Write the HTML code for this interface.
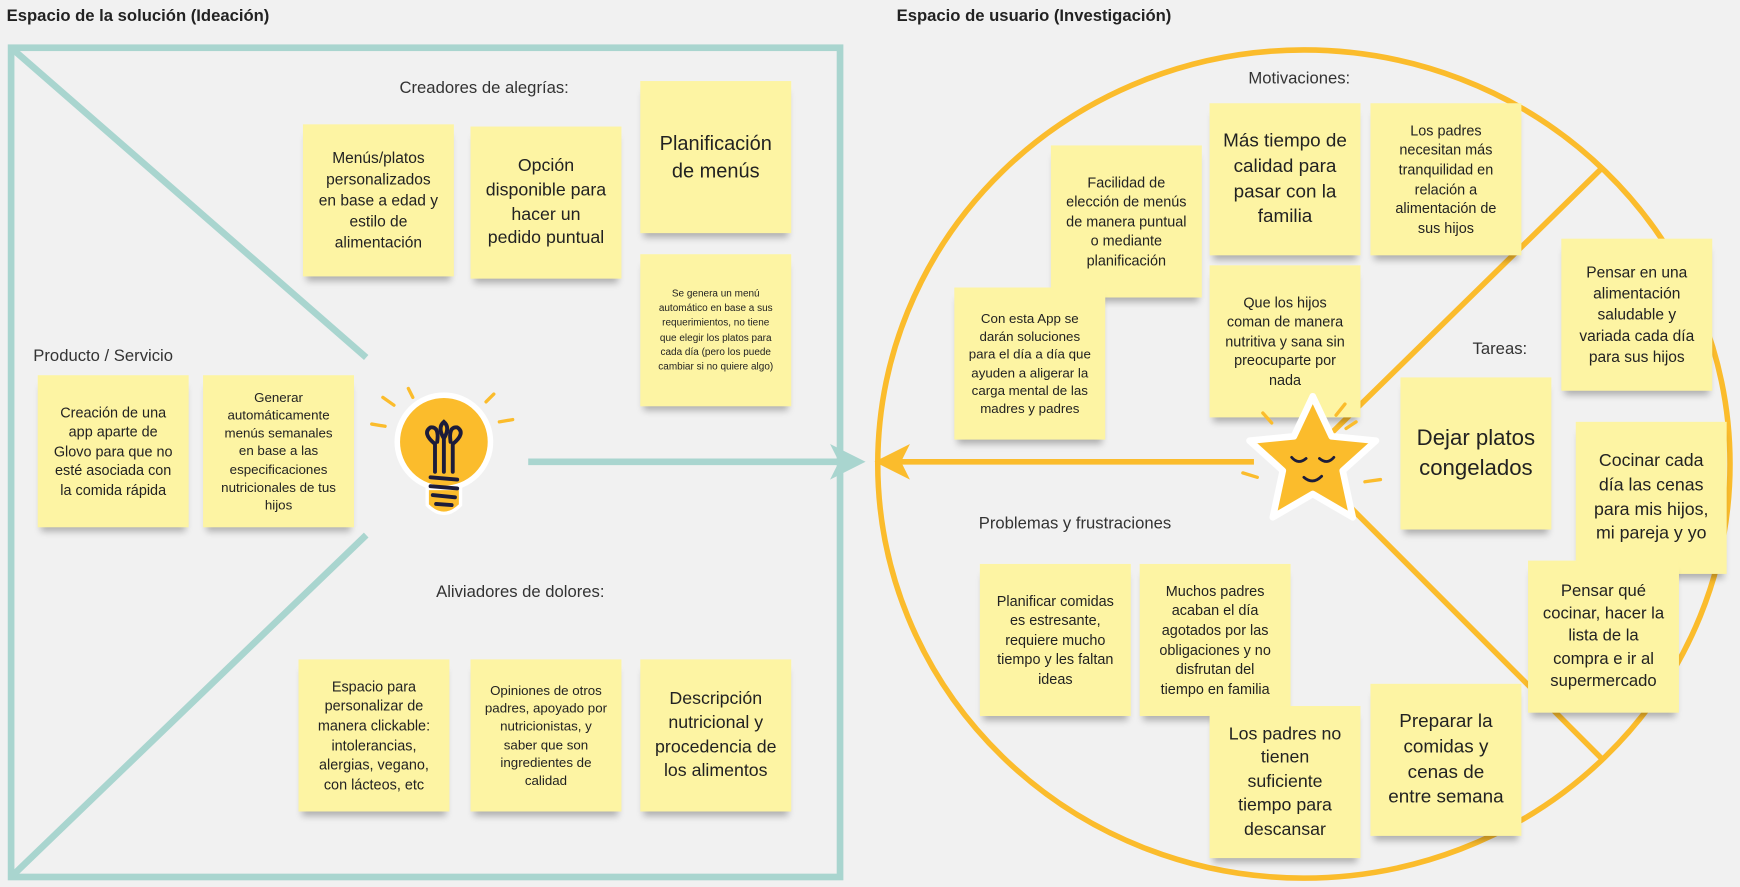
<!DOCTYPE html>
<html><head><meta charset="utf-8"><style>
html,body{margin:0;padding:0;width:1740px;height:887px;overflow:hidden;background:#f1f1f1;}
#w{position:absolute;left:0;top:0;width:1568px;height:799px;transform:scale(1.10969,1.1101);transform-origin:0 0;font-family:"Liberation Sans",sans-serif;color:#222;}
.t{position:absolute;font-weight:bold;font-size:15px;}
.l{position:absolute;font-size:15px;color:#333;white-space:nowrap;}
.s{position:absolute;width:136px;height:137px;background:#fdf4a3;box-shadow:0 7px 6px -3px rgba(0,0,0,.28);display:flex;align-items:center;justify-content:center;text-align:center;box-sizing:border-box;padding:6px 12px;line-height:1.35;color:#222;}
svg{position:absolute;left:0;top:0;}
</style></head><body><div id="w">
<svg width="1568" height="799">
<g stroke="#a9d5cf" stroke-width="6" fill="none">
<rect x="10" y="43" width="747" height="747"/>
<line x1="10" y1="43" x2="330" y2="322"/>
<line x1="330" y1="482" x2="10" y2="790"/>
<line x1="476" y1="416" x2="760" y2="416"/>
</g>
<polygon points="780,416 748,400 756,416 748,432" fill="#a9d5cf"/>
<g stroke="#fbbc2c" stroke-width="5" fill="none">
<ellipse cx="1175" cy="418" rx="384" ry="373"/>
<line x1="1130" y1="416" x2="810" y2="416"/>
<line x1="1200" y1="390" x2="1443" y2="152"/>
<line x1="1200" y1="440" x2="1443" y2="683"/>
</g>
<polygon points="788,416 820,400 812,416 820,432" fill="#fbbc2c"/>
<!-- bulb -->
<g stroke="#fbbc2c" stroke-width="3" stroke-linecap="round">
<line x1="345" y1="358" x2="355" y2="365"/><line x1="368" y1="350" x2="372" y2="358"/>
<line x1="335" y1="382" x2="347" y2="384"/><line x1="445" y1="355" x2="438" y2="362"/>
<line x1="462" y1="378" x2="450" y2="380"/>
</g>
<circle cx="400" cy="398" r="42" fill="#fbbc2c" stroke="#fff" stroke-width="5"/>
<path d="M385 440 L385 455 Q400 470 415 455 L415 440 Z" fill="#fbbc2c" stroke="#fff" stroke-width="3"/>
<g stroke="#1c1c3a" stroke-width="3.5" fill="none" stroke-linecap="round">
<path d="M392 425 L392 400 Q380 390 388 385 Q396 384 394 398"/>
<path d="M408 425 L408 400 Q420 390 412 385 Q404 384 406 398"/>
<path d="M400 425 L400 395 Q394 385 400 380 Q406 385 400 395"/>
<path d="M388 430 L412 432 M388 438 L412 440 M390 446 L410 448 M393 454 L407 455"/>
</g>
</svg>
<div class="t" style="left:6px;top:6px">Espacio de la solución (Ideación)</div>
<div class="t" style="left:808px;top:6px">Espacio de usuario (Investigación)</div>
<div class="l" style="left:360px;top:71px">Creadores de alegrías:</div>
<div class="l" style="left:30px;top:312px">Producto / Servicio</div>
<div class="l" style="left:393px;top:525px">Aliviadores de dolores:</div>
<div class="l" style="left:1125px;top:62px">Motivaciones:</div>
<div class="l" style="left:1327px;top:306px">Tareas:</div>
<div class="l" style="left:882px;top:463px">Problemas y frustraciones</div>

<div class="s" style="left:273px;top:112px;font-size:14px">Menús/platos personalizados en base a edad y estilo de alimentación</div>
<div class="s" style="left:424px;top:114px;font-size:16px">Opción disponible para hacer un pedido puntual</div>
<div class="s" style="left:577px;top:73px;font-size:18px">Planificación de menús</div>
<div class="s" style="left:577px;top:229px;font-size:9px;line-height:1.45">Se genera un menú automático en base a sus requerimientos, no tiene que elegir los platos para cada día (pero los puede cambiar si no quiere algo)</div>
<div class="s" style="left:34px;top:338px;font-size:13px">Creación de una app aparte de Glovo para que no esté asociada con la comida rápida</div>
<div class="s" style="left:183px;top:338px;font-size:12px">Generar automáticamente menús semanales en base a las especificaciones nutricionales de tus hijos</div>
<div class="s" style="left:269px;top:594px;font-size:13px">Espacio para personalizar de manera clickable: intolerancias, alergias, vegano, con lácteos, etc</div>
<div class="s" style="left:424px;top:594px;font-size:12px">Opiniones de otros padres, apoyado por nutricionistas, y saber que son ingredientes de calidad</div>
<div class="s" style="left:577px;top:594px;font-size:16px">Descripción nutricional y procedencia de los alimentos</div>

<div class="s" style="left:947px;top:131px;font-size:13px">Facilidad de elección de menús de manera puntual o mediante planificación</div>
<div class="s" style="left:1090px;top:93px;font-size:17px">Más tiempo de calidad para pasar con la familia</div>
<div class="s" style="left:1235px;top:93px;font-size:13px">Los padres necesitan más tranquilidad en relación a alimentación de sus hijos</div>
<div class="s" style="left:860px;top:259px;font-size:12px">Con esta App se darán soluciones para el día a día que ayuden a aligerar la carga mental de las madres y padres</div>
<div class="s" style="left:1090px;top:239px;font-size:13px">Que los hijos coman de manera nutritiva y sana sin preocuparte por nada</div>
<div class="s" style="left:1407px;top:215px;font-size:14px">Pensar en una alimentación saludable y variada cada día para sus hijos</div>
<div class="s" style="left:1262px;top:340px;font-size:20px">Dejar platos congelados</div>
<div class="s" style="left:1420px;top:380px;font-size:16px">Cocinar cada día las cenas para mis hijos, mi pareja y yo</div>
<div class="s" style="left:1377px;top:505px;font-size:15px">Pensar qué cocinar, hacer la lista de la compra e ir al supermercado</div>
<div class="s" style="left:883px;top:508px;font-size:13px">Planificar comidas es estresante, requiere mucho tiempo y les faltan ideas</div>
<div class="s" style="left:1027px;top:508px;font-size:13px">Muchos padres acaban el día agotados por las obligaciones y no disfrutan del tiempo en familia</div>
<div class="s" style="left:1090px;top:636px;font-size:16px">Los padres no tienen suficiente tiempo para descansar</div>
<div class="s" style="left:1235px;top:616px;font-size:17px">Preparar la comidas y cenas de entre semana</div>
<svg width="1568" height="799">
<g stroke="#fbbc2c" stroke-width="3" stroke-linecap="round">
<line x1="1138" y1="372" x2="1146" y2="381"/><line x1="1212" y1="364" x2="1204" y2="374"/>
<line x1="1222" y1="380" x2="1213" y2="386"/><line x1="1120" y1="426" x2="1133" y2="430"/>
<line x1="1244" y1="432" x2="1230" y2="434"/><line x1="1150" y1="465" x2="1158" y2="456"/>
</g>
<polygon points="1183,357 1200,393 1240,397 1210,424 1219,466 1183,445 1147,466 1156,424 1126,397 1166,393" fill="#fbbc2c" stroke="#fff" stroke-width="6" stroke-linejoin="round"/>
<g stroke="#1c1c3a" stroke-width="2.5" fill="none" stroke-linecap="round">
<path d="M1164 412 Q1170 419 1177 413"/><path d="M1189 413 Q1196 419 1202 412"/>
<path d="M1175 430 Q1183 437 1191 429"/>
</g>
</svg>
</div></body></html>
